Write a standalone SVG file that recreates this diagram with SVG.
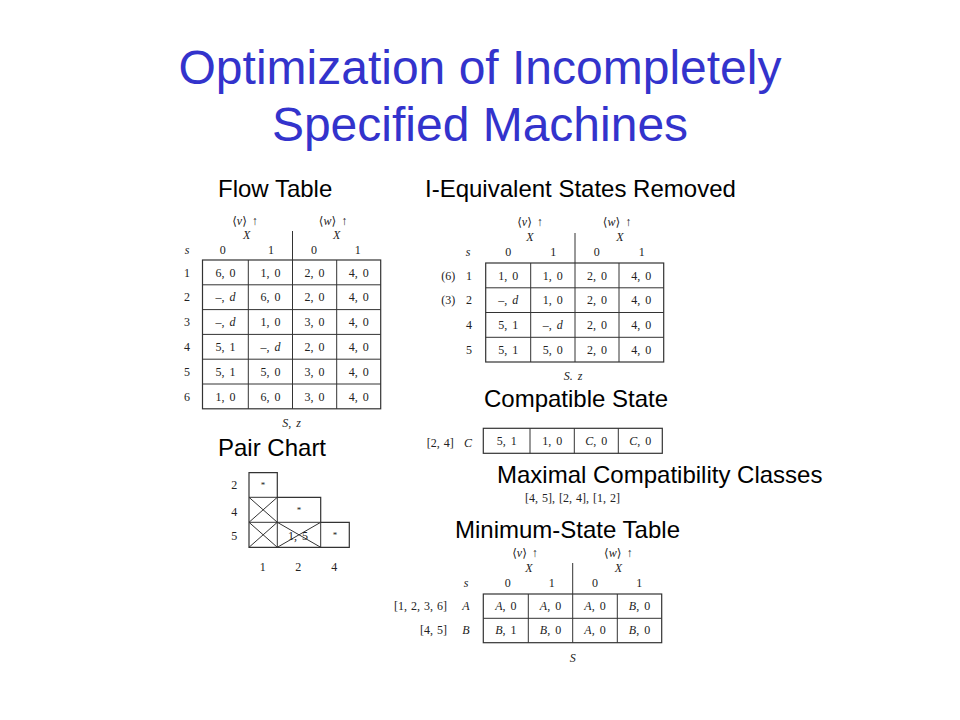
<svg xmlns="http://www.w3.org/2000/svg" width="960" height="720" viewBox="0 0 960 720">
<style>
.title{font-family:"Liberation Sans",Arial,sans-serif;font-size:48px;fill:#3333CC;text-anchor:middle}
.lbl{font-family:"Liberation Sans",Arial,sans-serif;font-size:24px;fill:#000}
.t{font-family:"Liberation Serif","DejaVu Serif",serif;font-size:12px;fill:#222;text-anchor:middle;word-spacing:2px}
.ts{font-family:"Liberation Serif","DejaVu Serif",serif;font-size:12px;fill:#222;word-spacing:1px}
.i{font-style:italic}
.grid{fill:none;stroke:#333;stroke-width:1.2}
.ln{stroke:#333;stroke-width:1}
.star{font-size:9px}
</style>
<rect width="960" height="720" fill="#fff"/>

<g id="title">
<text class="title" x="480" y="84">Optimization of Incompletely</text>
<text class="title" x="480" y="141">Specified Machines</text>
</g>

<g id="labels">
<text class="lbl" x="218" y="197">Flow Table</text>
<text class="lbl" x="425" y="197">I-Equivalent States Removed</text>
<text class="lbl" x="484" y="407">Compatible State</text>
<text class="lbl" x="218" y="456">Pair Chart</text>
<text class="lbl" x="497" y="483">Maximal Compatibility Classes</text>
<text class="lbl" x="455" y="538">Minimum-State Table</text>
</g>

<g id="flow-table">
<text class="t" x="245" y="224.5">⟨<tspan class="i">v</tspan>⟩ ↑</text>
<text class="t i" x="246.7" y="239">X</text>
<text class="t" x="333" y="224.5">⟨<tspan class="i">w</tspan>⟩ ↑</text>
<text class="t i" x="336.7" y="239">X</text>
<line class="ln" x1="292.5" y1="231" x2="292.5" y2="260"/>
<text class="t i" x="187" y="254">s</text>
<text class="t" x="222.7" y="254">0</text>
<text class="t" x="271" y="254">1</text>
<text class="t" x="314" y="254">0</text>
<text class="t" x="357.7" y="254">1</text>
<rect class="grid" x="202.5" y="260" width="178.2" height="148.8"/>
<path class="ln" fill="none" d="M248.3 260V408.8M292.5 260V408.8M336.7 260V408.8M202.5 284.8H380.7M202.5 309.6H380.7M202.5 334.4H380.7M202.5 359.2H380.7M202.5 384H380.7"/>
<g class="t">
<text x="187" y="276.6">1</text><text x="225.4" y="276.6">6, 0</text><text x="270.4" y="276.6">1, 0</text><text x="314.6" y="276.6">2, 0</text><text x="358.7" y="276.6">4, 0</text>
<text x="187" y="301.4">2</text><text x="225.4" y="301.4">–, <tspan class="i">d</tspan></text><text x="270.4" y="301.4">6, 0</text><text x="314.6" y="301.4">2, 0</text><text x="358.7" y="301.4">4, 0</text>
<text x="187" y="326.2">3</text><text x="225.4" y="326.2">–, <tspan class="i">d</tspan></text><text x="270.4" y="326.2">1, 0</text><text x="314.6" y="326.2">3, 0</text><text x="358.7" y="326.2">4, 0</text>
<text x="187" y="351">4</text><text x="225.4" y="351">5, 1</text><text x="270.4" y="351">–, <tspan class="i">d</tspan></text><text x="314.6" y="351">2, 0</text><text x="358.7" y="351">4, 0</text>
<text x="187" y="375.8">5</text><text x="225.4" y="375.8">5, 1</text><text x="270.4" y="375.8">5, 0</text><text x="314.6" y="375.8">3, 0</text><text x="358.7" y="375.8">4, 0</text>
<text x="187" y="400.6">6</text><text x="225.4" y="400.6">1, 0</text><text x="270.4" y="400.6">6, 0</text><text x="314.6" y="400.6">3, 0</text><text x="358.7" y="400.6">4, 0</text>
</g>
<text class="t i" x="291.7" y="427">S, z</text>
</g>

<g id="iequiv-table">
<text class="t" x="530" y="226">⟨<tspan class="i">v</tspan>⟩ ↑</text>
<text class="t i" x="530" y="241">X</text>
<text class="t" x="617" y="226">⟨<tspan class="i">w</tspan>⟩ ↑</text>
<text class="t i" x="620" y="241">X</text>
<line class="ln" x1="575" y1="233" x2="575" y2="263"/>
<text class="t i" x="468" y="256">s</text>
<text class="t" x="508.3" y="256">0</text>
<text class="t" x="553.3" y="256">1</text>
<text class="t" x="596.7" y="256">0</text>
<text class="t" x="641.7" y="256">1</text>
<rect class="grid" x="485.7" y="263" width="178" height="99"/>
<path class="ln" fill="none" d="M530.7 263V362M575 263V362M619 263V362M485.7 287.8H663.7M485.7 312.5H663.7M485.7 337.3H663.7"/>
<g class="t">
<text x="448.3" y="279.6">(6)</text><text x="469" y="279.6">1</text><text x="508.2" y="279.6">1, 0</text><text x="552.8" y="279.6">1, 0</text><text x="597" y="279.6">2, 0</text><text x="641.3" y="279.6">4, 0</text>
<text x="448.3" y="304.4">(3)</text><text x="469" y="304.4">2</text><text x="508.2" y="304.4">–, <tspan class="i">d</tspan></text><text x="552.8" y="304.4">1, 0</text><text x="597" y="304.4">2, 0</text><text x="641.3" y="304.4">4, 0</text>
<text x="469" y="329.1">4</text><text x="508.2" y="329.1">5, 1</text><text x="552.8" y="329.1">–, <tspan class="i">d</tspan></text><text x="597" y="329.1">2, 0</text><text x="641.3" y="329.1">4, 0</text>
<text x="469" y="353.8">5</text><text x="508.2" y="353.8">5, 1</text><text x="552.8" y="353.8">5, 0</text><text x="597" y="353.8">2, 0</text><text x="641.3" y="353.8">4, 0</text>
</g>
<text class="t i" x="573" y="380">S. z</text>
</g>

<g id="compatible-state">
<text class="ts" x="426.7" y="446.5">[2, 4]</text>
<text class="t i" x="468" y="446.5">C</text>
<rect class="grid" x="483.3" y="428.3" width="179" height="25"/>
<path class="ln" fill="none" d="M530 428.3V453.3M574.3 428.3V453.3M618.3 428.3V453.3"/>
<g class="t">
<text x="506.7" y="445">5, 1</text><text x="552.2" y="445">1, 0</text><text x="596.3" y="445"><tspan class="i">C</tspan>, 0</text><text x="640.3" y="445"><tspan class="i">C</tspan>, 0</text>
</g>
</g>

<g id="pair-chart">
<path class="grid" d="M249 472.7H277.3V497.3H320.7V522.3H349.3V547.3H249Z"/>
<path class="ln" fill="none" d="M249 497.3H277.3M249 522.3H320.7M277.3 497.3V547.3M320.7 522.3V547.3"/>
<path class="ln" fill="none" d="M249 497.3L277.3 522.3M249 522.3L277.3 497.3M249 522.3L277.3 547.3M249 547.3L277.3 522.3M277.3 522.3L320.7 547.3M277.3 547.3L320.7 522.3"/>
<g class="t">
<text x="234.3" y="489">2</text>
<text x="234.3" y="515.5">4</text>
<text x="234.3" y="540">5</text>
<text class="star" x="263" y="488">*</text>
<text class="star" x="299" y="513">*</text>
<text class="star" x="335" y="538">*</text>
<text x="298" y="540">1, 5</text>
<text x="262.7" y="571">1</text>
<text x="298.3" y="571">2</text>
<text x="334.3" y="571">4</text>
</g>
</g>

<g id="maximal-classes">
<text class="ts" x="525" y="502">[4, 5], [2, 4], [1, 2]</text>
</g>

<g id="minimum-table">
<text class="t" x="525" y="557">⟨<tspan class="i">v</tspan>⟩ ↑</text>
<text class="t i" x="529" y="572">X</text>
<text class="t" x="618.3" y="557">⟨<tspan class="i">w</tspan>⟩ ↑</text>
<text class="t i" x="618.3" y="572">X</text>
<line class="ln" x1="572.7" y1="563" x2="572.7" y2="594"/>
<text class="t i" x="466" y="587">s</text>
<text class="t" x="507.7" y="587">0</text>
<text class="t" x="551.7" y="587">1</text>
<text class="t" x="595" y="587">0</text>
<text class="t" x="639.3" y="587">1</text>
<rect class="grid" x="483.3" y="594" width="178.4" height="48.7"/>
<path class="ln" fill="none" d="M528.3 594V642.7M572.7 594V642.7M617.3 594V642.7M483.3 618.3H661.7"/>
<text class="ts" x="447" y="610" text-anchor="end">[1, 2, 3, 6]</text>
<text class="ts" x="447" y="634" text-anchor="end">[4, 5]</text>
<g class="t">
<text class="i" x="466" y="610">A</text><text x="505.8" y="610"><tspan class="i">A</tspan>, 0</text><text x="550.5" y="610"><tspan class="i">A</tspan>, 0</text><text x="595" y="610"><tspan class="i">A</tspan>, 0</text><text x="639.5" y="610"><tspan class="i">B</tspan>, 0</text>
<text class="i" x="466" y="634">B</text><text x="505.8" y="634"><tspan class="i">B</tspan>, 1</text><text x="550.5" y="634"><tspan class="i">B</tspan>, 0</text><text x="595" y="634"><tspan class="i">A</tspan>, 0</text><text x="639.5" y="634"><tspan class="i">B</tspan>, 0</text>
</g>
<text class="t i" x="572.7" y="662">S</text>
</g>
</svg>
